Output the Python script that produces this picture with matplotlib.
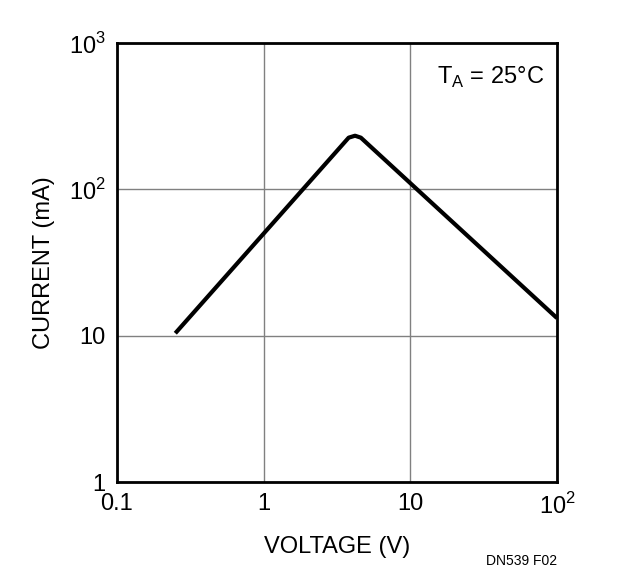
import matplotlib
matplotlib.use("Agg")
import matplotlib.pyplot as plt
from matplotlib import font_manager

names = {f.name for f in font_manager.fontManager.ttflist}
fam = "Liberation Sans Narrow" if "Liberation Sans Narrow" in names else "Liberation Sans"
plt.rcParams["font.family"] = fam
plt.rcParams["mathtext.fontset"] = "custom"
plt.rcParams["mathtext.rm"] = fam

voltage = [0.25, 3.8, 4.2, 4.6, 100]
current = [10.4, 226, 233, 226, 13.2]
xticks = [0.1, 1, 10, 100]
xticklabels = ["0.1", "1", "10", r"10$^2$"]
yticks = [1, 10, 100, 1000]
yticklabels = ["1", "10", r"10$^2$", r"10$^3$"]

fig = plt.figure(figsize=(6.22, 5.82), dpi=100)
ax = fig.add_axes([0.188, 0.1718, 0.7075, 0.754])
ax.set_xscale("log"); ax.set_yscale("log")
ax.set_xlim(0.1, 100); ax.set_ylim(1, 1000)
ax.plot(voltage, current, color="black", lw=3, solid_joinstyle="round", solid_capstyle="butt")
ax.set_xticks(xticks); ax.set_xticklabels(xticklabels, fontsize=17)
ax.set_yticks(yticks); ax.set_yticklabels(yticklabels, fontsize=17)
ax.minorticks_off()
ax.tick_params(length=0, pad=8)
ax.grid(True, color="#808080", lw=1)
for s in ax.spines.values():
    s.set_linewidth(2)
ax.set_xlabel("VOLTAGE (V)", fontsize=17, labelpad=12)
ax.set_ylabel("CURRENT (mA)", fontsize=17, labelpad=10)
ax.text(0.97, 0.95, r"T$_\mathrm{A}$ = 25°C", transform=ax.transAxes, ha="right", va="top", fontsize=17)
fig.text(0.895, 0.03, "DN539 F02", ha="right", fontsize=10)
fig.savefig("out.png", dpi=100)
